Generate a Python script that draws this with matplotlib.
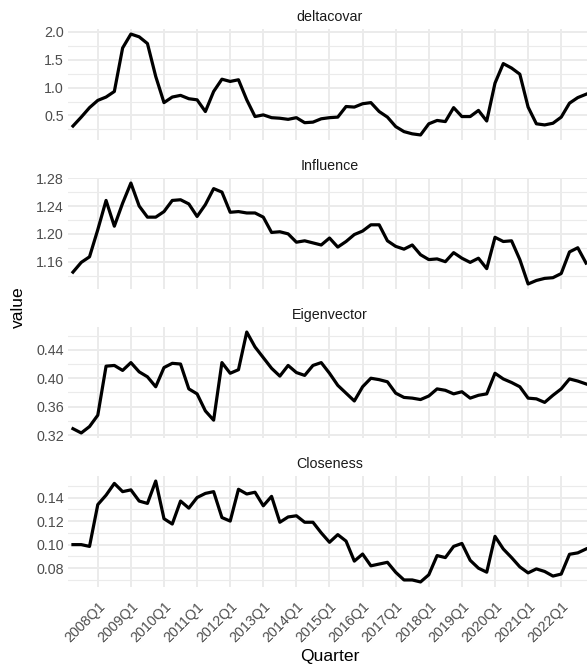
import numpy as np
import matplotlib.pyplot as plt
from matplotlib.ticker import FixedLocator

plt.rcParams['font.family'] = ['Liberation Sans', 'DejaVu Sans']

# Trimestres 2007Q2 - 2022Q4
quarters = [f"{y}Q{q}" for y in range(2007, 2023) for q in range(1, 5)][1:]

deltacovar = [0.31, 0.47, 0.64, 0.77, 0.83, 0.93, 1.71, 1.96, 1.91, 1.79,
              1.20, 0.73, 0.83, 0.86, 0.80, 0.78, 0.57, 0.93, 1.15, 1.11,
              1.14, 0.78, 0.48, 0.51, 0.46, 0.45, 0.43, 0.46, 0.37, 0.38,
              0.44, 0.46, 0.47, 0.66, 0.65, 0.71, 0.73, 0.57, 0.47, 0.30,
              0.21, 0.17, 0.15, 0.35, 0.41, 0.39, 0.64, 0.48, 0.48, 0.59,
              0.40, 1.08, 1.43, 1.35, 1.24, 0.65, 0.35, 0.33, 0.36, 0.47,
              0.72, 0.82, 0.88]

influence = [1.145, 1.159, 1.167, 1.206, 1.248, 1.211, 1.244, 1.273, 1.240, 1.224,
             1.224, 1.232, 1.248, 1.249, 1.243, 1.225, 1.242, 1.265, 1.260, 1.231,
             1.232, 1.230, 1.230, 1.224, 1.202, 1.203, 1.200, 1.188, 1.190, 1.187,
             1.184, 1.194, 1.181, 1.189, 1.199, 1.204, 1.213, 1.213, 1.190, 1.182,
             1.178, 1.184, 1.170, 1.163, 1.164, 1.160, 1.173, 1.165, 1.159, 1.165,
             1.150, 1.195, 1.189, 1.190, 1.163, 1.128, 1.133, 1.136, 1.137, 1.143,
             1.174, 1.180, 1.158]

eigenvector = [0.329, 0.323, 0.332, 0.348, 0.417, 0.418, 0.411, 0.422, 0.409, 0.402,
               0.388, 0.415, 0.421, 0.420, 0.385, 0.378, 0.354, 0.341, 0.422, 0.407,
               0.412, 0.465, 0.444, 0.429, 0.414, 0.403, 0.418, 0.408, 0.404, 0.418,
               0.422, 0.407, 0.390, 0.379, 0.368, 0.388, 0.400, 0.398, 0.395, 0.379,
               0.373, 0.372, 0.370, 0.375, 0.385, 0.383, 0.378, 0.381, 0.372, 0.376,
               0.378, 0.407, 0.399, 0.394, 0.388, 0.372, 0.371, 0.366, 0.376, 0.385,
               0.399, 0.396, 0.392]

closeness = [0.100, 0.100, 0.0985, 0.134, 0.142, 0.152, 0.145, 0.1465, 0.137, 0.135,
             0.154, 0.122, 0.1175, 0.137, 0.131, 0.140, 0.1435, 0.145, 0.123, 0.120,
             0.147, 0.143, 0.1445, 0.133, 0.141, 0.119, 0.1235, 0.1245, 0.119, 0.119,
             0.110, 0.102, 0.1085, 0.103, 0.086, 0.092, 0.082, 0.0835, 0.085, 0.0765,
             0.070, 0.070, 0.0683, 0.0744, 0.0907, 0.089, 0.0985, 0.101, 0.0867, 0.080,
             0.0766, 0.107, 0.0963, 0.089, 0.0811, 0.076, 0.0794, 0.0772, 0.0733, 0.075,
             0.0918, 0.093, 0.0963]

panel_names = ["deltacovar", "Influence", "Eigenvector", "Closeness"]
panel_data = [deltacovar, influence, eigenvector, closeness]
major_ticks = [[0.5, 1.0, 1.5, 2.0],
               [1.16, 1.20, 1.24, 1.28],
               [0.32, 0.36, 0.40, 0.44],
               [0.08, 0.10, 0.12, 0.14]]
tick_fmt = ["{:.1f}", "{:.2f}", "{:.2f}", "{:.2f}"]

W, H = 587, 669
fig = plt.figure(figsize=(W / 100, H / 100), dpi=100)

x = np.arange(len(quarters))
xticks = [i for i, q in enumerate(quarters) if q.endswith("Q1")]

left, right = 68, 591
tops = [29, 178, 327, 476]
ph = 111
grid_col = "#EBEBEB"

for k, (name, vals) in enumerate(zip(panel_names, panel_data)):
    ax = fig.add_axes([left / W, 1 - (tops[k] + ph) / H, (right - left) / W, ph / H])
    vals = np.array(vals)
    lo, hi = vals.min(), vals.max()
    pad = (hi - lo) * 0.05
    ax.set_ylim(lo - pad, hi + pad)
    ax.set_xlim(-0.6, len(quarters) - 1 + 0.6)

    mt = major_ticks[k]
    step = mt[1] - mt[0]
    minors = [mt[0] - step / 2] + [t + step / 2 for t in mt]
    ax.yaxis.set_major_locator(FixedLocator(mt))
    ax.yaxis.set_minor_locator(FixedLocator(minors))
    ax.set_yticklabels([tick_fmt[k].format(t) for t in mt])
    ax.set_xticks(xticks)
    if k == 3:
        ax.set_xticklabels([quarters[i] for i in xticks], rotation=45,
                           ha="right", va="top", rotation_mode="anchor")
    else:
        ax.set_xticklabels([])

    ax.grid(True, which="major", color=grid_col, linewidth=1.4)
    ax.grid(True, which="minor", axis="y", color=grid_col, linewidth=0.8)
    ax.set_axisbelow(True)
    for s in ax.spines.values():
        s.set_visible(False)
    ax.tick_params(which="both", length=0, labelsize=10.3, colors="#4D4D4D", pad=3)
    ax.tick_params(axis="x", pad=9)

    ax.plot(x, vals, color="black", linewidth=2.3, solid_joinstyle="round")
    ax.set_title(name, fontsize=10.3, color="#1A1A1A", pad=6)

fig.text(330 / W, 1 - 657 / H, "Quarter", ha="center", va="center", fontsize=12.6)
fig.text(18 / W, 1 - 307 / H, "value", ha="center", va="center", rotation=90, fontsize=12.6)

fig.savefig("out.png", dpi=100, facecolor="white")
